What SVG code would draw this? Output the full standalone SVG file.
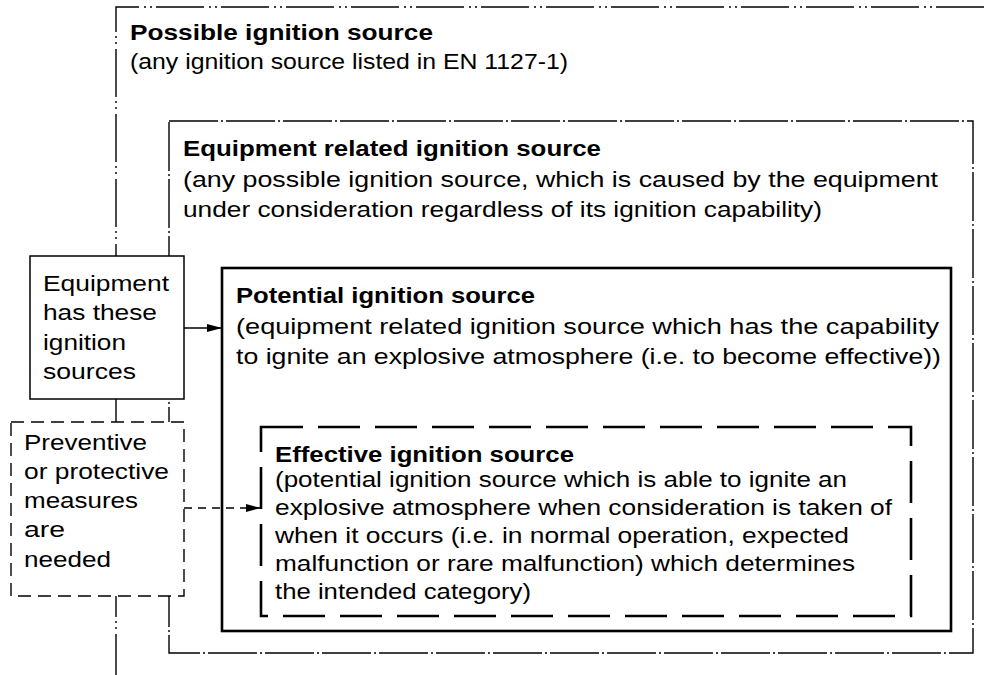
<svg xmlns="http://www.w3.org/2000/svg" width="984" height="675" viewBox="0 0 984 675">
<style>
text{font-family:"Liberation Sans",Arial,sans-serif;font-size:22px;fill:#000}
.b{font-weight:bold}
.ln{fill:none;stroke:#000}
</style>
<defs>
<marker id="ah" markerWidth="16" markerHeight="10" refX="15" refY="5" orient="auto" markerUnits="userSpaceOnUse">
<path d="M0,1 L15,5 L0,9 Z" fill="#000"/>
</marker>
</defs>
<rect width="984" height="675" fill="#fff"/>
<g id="possible">
<path class="ln" d="M984,7 H116 V675" stroke-width="1.4" stroke-dasharray="48 4 2 4 2 5"/>
<text class="b" x="130" y="40" textLength="303" lengthAdjust="spacingAndGlyphs">Possible ignition source</text>
<text x="130" y="69" textLength="438" lengthAdjust="spacingAndGlyphs">(any ignition source listed in EN 1127-1)</text>
</g>
<g id="equipment-related">
<rect class="ln" x="169" y="121" width="804" height="532" stroke-width="1.4" stroke-dasharray="49 3 2 3"/>
<text class="b" x="183" y="156" textLength="418" lengthAdjust="spacingAndGlyphs">Equipment related ignition source</text>
<text x="183" y="187" textLength="755" lengthAdjust="spacingAndGlyphs">(any possible ignition source, which is caused by the equipment</text>
<text x="183" y="217" textLength="639" lengthAdjust="spacingAndGlyphs">under consideration regardless of its ignition capability)</text>
</g>
<g id="potential">
<rect class="ln" x="222" y="268" width="729" height="363" stroke-width="2.6"/>
<text class="b" x="236" y="303" textLength="299" lengthAdjust="spacingAndGlyphs">Potential ignition source</text>
<text x="236" y="334" textLength="703" lengthAdjust="spacingAndGlyphs">(equipment related ignition source which has the capability</text>
<text x="236" y="364" textLength="705" lengthAdjust="spacingAndGlyphs">to ignite an explosive atmosphere (i.e. to become effective))</text>
</g>
<g id="effective">
<rect class="ln" x="261" y="427" width="650" height="189" stroke-width="2.6" stroke-dasharray="42 15"/>
<text class="b" x="275" y="462" textLength="299" lengthAdjust="spacingAndGlyphs">Effective ignition source</text>
<text x="275" y="487" textLength="572" lengthAdjust="spacingAndGlyphs">(potential ignition source which is able to ignite an</text>
<text x="275" y="515" textLength="617" lengthAdjust="spacingAndGlyphs">explosive atmosphere when consideration is taken of</text>
<text x="275" y="543" textLength="574" lengthAdjust="spacingAndGlyphs">when it occurs (i.e. in normal operation, expected</text>
<text x="275" y="571" textLength="580" lengthAdjust="spacingAndGlyphs">malfunction or rare malfunction) which determines</text>
<text x="275" y="599" textLength="256" lengthAdjust="spacingAndGlyphs">the intended category)</text>
</g>
<g id="has-sources">
<rect x="30" y="256" width="154" height="143" fill="#fff" stroke="#000" stroke-width="1.5"/>
<text x="43" y="291" textLength="126" lengthAdjust="spacingAndGlyphs">Equipment</text>
<text x="43" y="320" textLength="114" lengthAdjust="spacingAndGlyphs">has these</text>
<text x="43" y="350" textLength="83" lengthAdjust="spacingAndGlyphs">ignition</text>
<text x="43" y="379" textLength="93" lengthAdjust="spacingAndGlyphs">sources</text>
</g>
<g id="measures">
<rect x="11" y="422" width="173" height="174" fill="#fff" stroke="#000" stroke-width="1.4" stroke-dasharray="13 7"/>
<text x="24" y="450" textLength="123" lengthAdjust="spacingAndGlyphs">Preventive</text>
<text x="24" y="479" textLength="145" lengthAdjust="spacingAndGlyphs">or protective</text>
<text x="24" y="508" textLength="114" lengthAdjust="spacingAndGlyphs">measures</text>
<text x="24" y="537" textLength="41" lengthAdjust="spacingAndGlyphs">are</text>
<text x="24" y="567" textLength="87" lengthAdjust="spacingAndGlyphs">needed</text>
</g>
<g id="connectors">
<line class="ln" x1="184" y1="328" x2="222" y2="328" stroke-width="1.5" marker-end="url(#ah)"/>
<line class="ln" x1="184" y1="508" x2="261" y2="508" stroke-width="1.5" stroke-dasharray="8 6" marker-end="url(#ah)"/>
</g>
</svg>
